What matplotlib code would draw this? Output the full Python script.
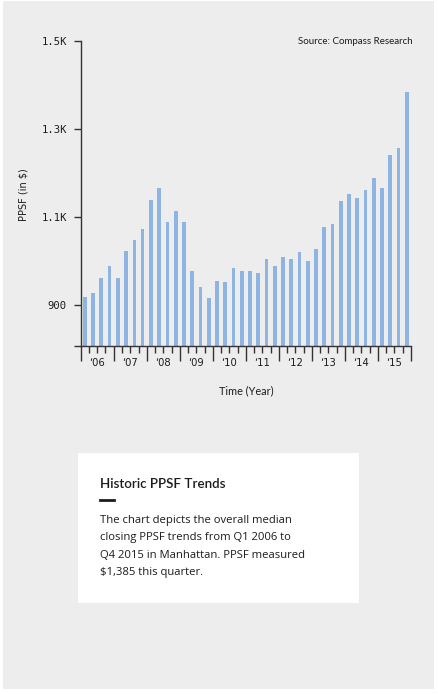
import matplotlib
matplotlib.use("Agg")
import matplotlib.pyplot as plt
from matplotlib.patches import Rectangle
import numpy as np

# ==================== DATA ====================
# median closing PPSF per quarter, Q1 2006 .. Q4 2015
ppsf = [919, 928, 962, 989, 962, 1023, 1048, 1073,
        1138, 1165, 1089, 1113, 1089, 978, 942, 917,
        955, 953, 983, 978, 978, 973, 1005, 989,
        1010, 1005, 1021, 1001, 1028, 1078, 1083, 1137,
        1152, 1143, 1161, 1188, 1165, 1240, 1256, 1385]
years = ["\u201806", "\u201807", "\u201808", "\u201809", "\u201810",
         "\u201811", "\u201812", "\u201813", "\u201814", "\u201815"]
y_ticks = [808, 900, 1100, 1300, 1500]
y_tick_labels = ["", "900", "1.1K", "1.3K", "1.5K"]

card_title = "Historic PPSF Trends"
card_lines = ["The chart depicts the overall median",
              "closing PPSF trends from Q1 2006 to",
              "Q4 2015 in Manhattan. PPSF measured",
              "$1,385 this quarter."]

# ==================== STYLE ====================
W, H = 439, 694
BG = "#ededed"
BAR = "#8db4e2"
INK = "#1c1c1c"
AXIS = "#333333"

fig = plt.figure(figsize=(W / 100, H / 100), dpi=100)
fig.patch.set_facecolor("white")
fig.patches.append(Rectangle((3 / W, 5 / H), 431 / W, 688 / H, transform=fig.transFigure,
                             facecolor=BG, edgecolor="none", zorder=-2))

# ==================== CHART ====================
ax = fig.add_axes([80.7 / W, 1 - 345.5 / H, 330.3 / W, 304.5 / H])
ax.set_facecolor("none")

x = np.arange(len(ppsf))
ax.bar(x, np.array(ppsf) - y_ticks[0], bottom=y_ticks[0], width=0.45, color=BAR, zorder=2)

ax.set_xlim(-0.5, len(ppsf) - 0.5)
ax.set_ylim(y_ticks[0], y_ticks[-1])

for s in ["top", "right"]:
    ax.spines[s].set_visible(False)
for s in ["left", "bottom"]:
    ax.spines[s].set_color(AXIS)
    ax.spines[s].set_linewidth(1.0)

ax.set_yticks(y_ticks)
ax.set_yticklabels(y_tick_labels, family="DejaVu Sans Mono", fontsize=7.6, color=INK)
ax.tick_params(axis="y", length=5, width=1, color=AXIS, pad=5)

# major ticks at year boundaries, minor at quarter boundaries
ax.set_xticks(np.arange(-0.5, len(ppsf), 4))
ax.set_xticklabels([])
ax.set_xticks(np.arange(-0.5, len(ppsf), 1), minor=True)
ax.tick_params(axis="x", which="major", length=11, width=1, color=AXIS)
ax.tick_params(axis="x", which="minor", length=5, width=1, color=AXIS)
for i, yr in enumerate(years):
    ax.text(i * 4 + 1.5, -18 / 304.5, yr, transform=ax.get_xaxis_transform(),
            ha="center", va="center", fontsize=7.2, family="DejaVu Sans", color=INK)

fig.text(23 / W, 1 - 195 / H, "PPSF (in $)", rotation=90, ha="center", va="center",
         fontsize=7, family="DejaVu Sans", color=INK)
fig.text(246 / W, 1 - 391 / H, "Time (Year)", ha="center", va="center",
         fontsize=7.8, family="Lato", color=INK)
fig.text(413 / W, 1 - 41 / H, "Source: Compass Research", ha="right", va="center",
         fontsize=7, family="Lato", color=INK)

# ==================== INFO CARD ====================
fig.patches.append(Rectangle((78 / W, 1 - 603 / H), 281 / W, 150 / H, transform=fig.transFigure,
                             facecolor="white", edgecolor="none", zorder=-1))
fig.text(100.5 / W, 1 - 488 / H, card_title, ha="left", va="baseline",
         fontsize=9.6, family="Lato", weight="semibold", color=INK)
fig.add_artist(plt.Line2D([100.5 / W, 114 / W], [1 - 500 / H, 1 - 500 / H],
                          transform=fig.transFigure, color=INK, linewidth=2))
for i, line in enumerate(card_lines):
    fig.text(100.5 / W, 1 - (523 + i * 17.4) / H, line, ha="left", va="baseline",
             fontsize=8.1, family="Open Sans", color=INK)

fig.savefig("out.png", dpi=100, facecolor=fig.get_facecolor())
